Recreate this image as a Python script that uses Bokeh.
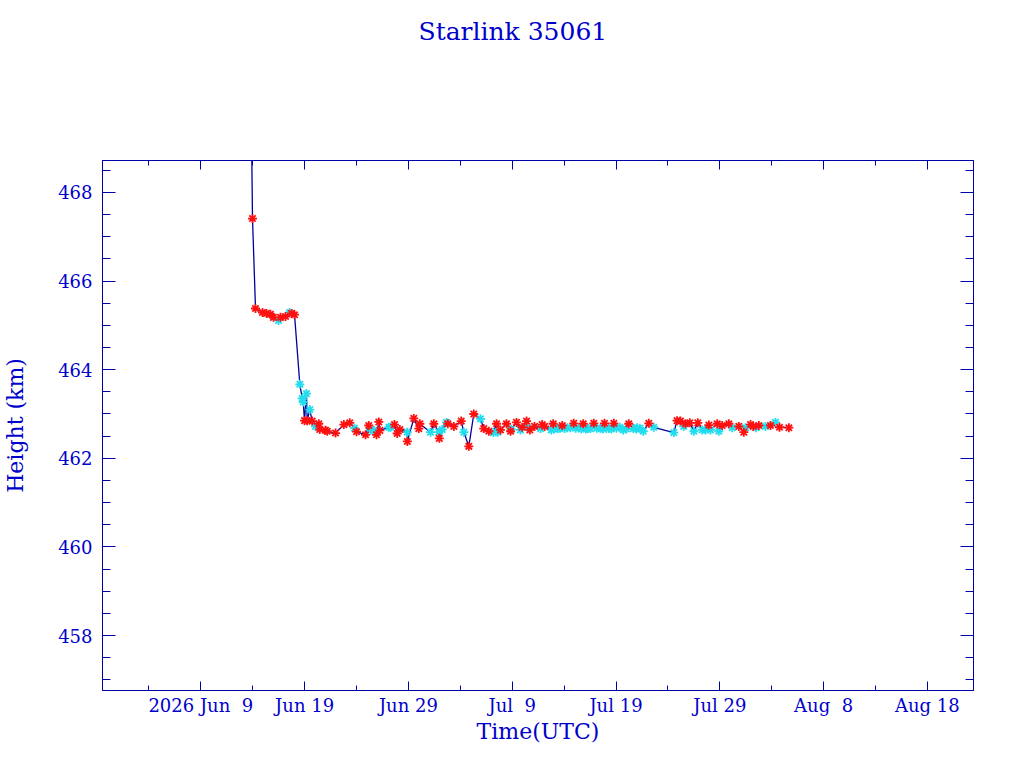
import numpy as np
from bokeh.plotting import figure
from bokeh.models import LinearAxis, FixedTicker, SingleIntervalTicker, Range1d
from bokeh.embed import file_html
from bokeh.resources import INLINE

# x values: days since 2026-06-09 00:00 UTC
red_days = [4.88, 4.98, 5.27, 5.94, 6.33, 6.71, 7.00, 7.68, 8.16, 8.74, 9.03,
            9.99, 10.25, 10.73, 11.37, 11.46, 12.01, 12.18, 12.98, 13.78, 14.35,
            15.00, 15.87, 16.18, 16.93, 17.15, 17.25, 18.66, 18.92, 19.17, 19.90,
            20.52, 21.00, 21.10, 22.45, 22.98, 23.80, 24.38, 25.09, 25.82, 26.30,
            27.26, 27.75, 28.49, 28.87, 29.45, 29.84, 30.41, 30.96, 31.38, 31.70,
            32.15, 32.89, 33.12, 33.95, 34.82, 35.93, 36.84, 37.86, 38.89, 39.79,
            41.23, 43.16, 45.88, 46.21, 46.69, 47.11, 47.88, 48.94, 49.75, 50.23,
            50.87, 51.83, 52.31, 52.96, 53.22, 53.76, 54.88, 55.75, 56.65]
red_heights = [469.50, 467.41, 465.38, 465.29, 465.27, 465.25, 465.18, 465.18, 465.20, 465.27, 465.24,
               462.85, 462.85, 462.84, 462.78, 462.65, 462.63, 462.61, 462.57, 462.76, 462.80,
               462.60, 462.53, 462.74, 462.53, 462.82, 462.63, 462.76, 462.56, 462.65, 462.38,
               462.90, 462.67, 462.78, 462.78, 462.45, 462.78, 462.72, 462.84, 462.27, 463.00,
               462.67, 462.61, 462.78, 462.64, 462.78, 462.61, 462.81, 462.70, 462.84, 462.64,
               462.72, 462.76, 462.72, 462.78, 462.74, 462.79, 462.78, 462.79, 462.79, 462.79,
               462.78, 462.79, 462.85, 462.84, 462.78, 462.80, 462.80, 462.75, 462.78, 462.74,
               462.78, 462.72, 462.59, 462.76, 462.72, 462.74, 462.74, 462.70, 462.69]

cyan_days = [7.48, 8.55, 9.54, 9.77, 9.87, 10.18, 10.50, 11.05, 14.81, 16.35, 16.67,
             18.11, 18.28, 19.88, 22.13, 22.93, 23.26, 23.67, 25.34, 26.95, 28.18,
             28.61, 29.90, 30.80, 31.45, 32.73, 33.76, 34.05, 34.39, 34.60, 35.05,
             35.30, 35.60, 36.10, 36.42, 36.65, 37.10, 37.30, 37.54, 38.15, 38.51,
             38.75, 39.05, 39.31, 39.55, 40.05, 40.37, 40.69, 41.00, 41.66, 41.95,
             42.04, 42.30, 42.62, 43.64, 45.57, 46.52, 47.50, 48.30, 48.62, 49.10,
             49.90, 51.20, 52.48, 53.50, 54.40, 55.36]
cyan_heights = [465.11, 465.29, 463.67, 463.35, 463.27, 463.46, 463.10, 462.72, 462.68, 462.63, 462.63,
                462.70, 462.70, 462.59, 462.59, 462.59, 462.65, 462.81, 462.59, 462.89, 462.58,
                462.59, 462.65, 462.64, 462.70, 462.67, 462.64, 462.66, 462.67, 462.68, 462.67,
                462.69, 462.69, 462.68, 462.69, 462.66, 462.66, 462.67, 462.67, 462.68, 462.67,
                462.66, 462.68, 462.67, 462.66, 462.68, 462.70, 462.64, 462.66, 462.67, 462.66,
                462.69, 462.68, 462.61, 462.70, 462.58, 462.72, 462.61, 462.64, 462.64, 462.64,
                462.61, 462.69, 462.69, 462.69, 462.72, 462.81]

x_tick_days = [0, 10, 20, 30, 40, 50, 60, 70]
x_minor_days = [-5, 5, 15, 25, 35, 45, 55, 65]
x_tick_labels = ["2026 Jun\u00a0\u00a09", "Jun 19", "Jun 29", "Jul\u00a0\u00a09",
                 "Jul 19", "Jul 29", "Aug\u00a0\u00a08", "Aug 18"]
title_text = "Starlink 35061"

TEXT = "#0000cc"
AXIS = "#0000a8"
LINE = "#00009a"
RED = "#ff1010"
CYAN = "#22dded"
FONT = "DejaVu Serif"

X0, X1 = -9.47, 74.44
Y0, Y1 = 456.76, 468.72

all_days = np.array(red_days + cyan_days)
all_h = np.array(red_heights + cyan_heights)
order = np.argsort(all_days, kind="stable")

p = figure(width=1005, height=752, output_backend="svg", toolbar_location=None,
           x_range=Range1d(X0, X1), y_range=Range1d(Y0, Y1),
           x_axis_type=None, y_axis_type=None,
           min_border_left=102, min_border_right=32, min_border_top=160, min_border_bottom=62)
p.xgrid.visible = False
p.ygrid.visible = False
p.outline_line_color = AXIS
p.background_fill_color = "white"
p.border_fill_color = "white"

p.title.text = title_text
p.title.align = "left"
p.title.offset = 316
p.title.standoff = 10
p.title.text_font = FONT
p.title.text_font_size = "25px"
p.title.text_font_style = "normal"
p.title.text_color = TEXT

xt = FixedTicker(ticks=x_tick_days, minor_ticks=x_minor_days)
yt = SingleIntervalTicker(interval=2, num_minor_ticks=4)


def style(ax, tin, minin, labels):
    ax.axis_line_color = AXIS
    ax.major_tick_line_color = AXIS
    ax.minor_tick_line_color = AXIS
    ax.major_tick_in = tin
    ax.major_tick_out = 0
    ax.minor_tick_in = minin
    ax.minor_tick_out = 0
    ax.major_label_text_font = FONT
    ax.axis_label_text_font = FONT
    ax.axis_label_text_color = TEXT
    ax.axis_label_text_font_style = "normal"
    if labels:
        ax.major_label_text_color = TEXT
        ax.major_label_text_font_size = "18px"
        ax.axis_label_text_font_size = "22px"
    else:
        ax.major_label_text_color = None
        ax.major_label_text_font_size = "1px"
        ax.major_label_standoff = 0


bottom = LinearAxis(ticker=xt, axis_label="Time(UTC)")
bottom.major_label_overrides = {d: l for d, l in zip(x_tick_days, x_tick_labels)}
style(bottom, 9, 5, True)
bottom.major_label_standoff = 4
bottom.axis_label_standoff = 0
p.add_layout(bottom, "below")

top = LinearAxis(ticker=xt)
style(top, 9, 5, False)
p.add_layout(top, "above")

# invisible spacer axis that keeps the title up in the top margin
spacer = LinearAxis(ticker=xt)
style(spacer, 0, 0, False)
spacer.axis_line_color = None
spacer.major_tick_line_color = None
spacer.minor_tick_line_color = None
spacer.major_tick_out = 110
p.add_layout(spacer, "above")

left = LinearAxis(ticker=yt, axis_label="Height (km)")
style(left, 13, 8, True)
left.major_label_standoff = 10
left.axis_label_standoff = 27
p.add_layout(left, "left")

right = LinearAxis(ticker=yt)
style(right, 13, 8, False)
p.add_layout(right, "right")

p.line(all_days[order], all_h[order], line_color=LINE, line_width=1.3)
p.scatter(cyan_days, cyan_heights, marker="asterisk", size=9, line_color=CYAN, line_width=1.8)
p.scatter(red_days, red_heights, marker="asterisk", size=9, line_color=RED, line_width=1.8)

open("out.html", "w").write(file_html(p, INLINE))
